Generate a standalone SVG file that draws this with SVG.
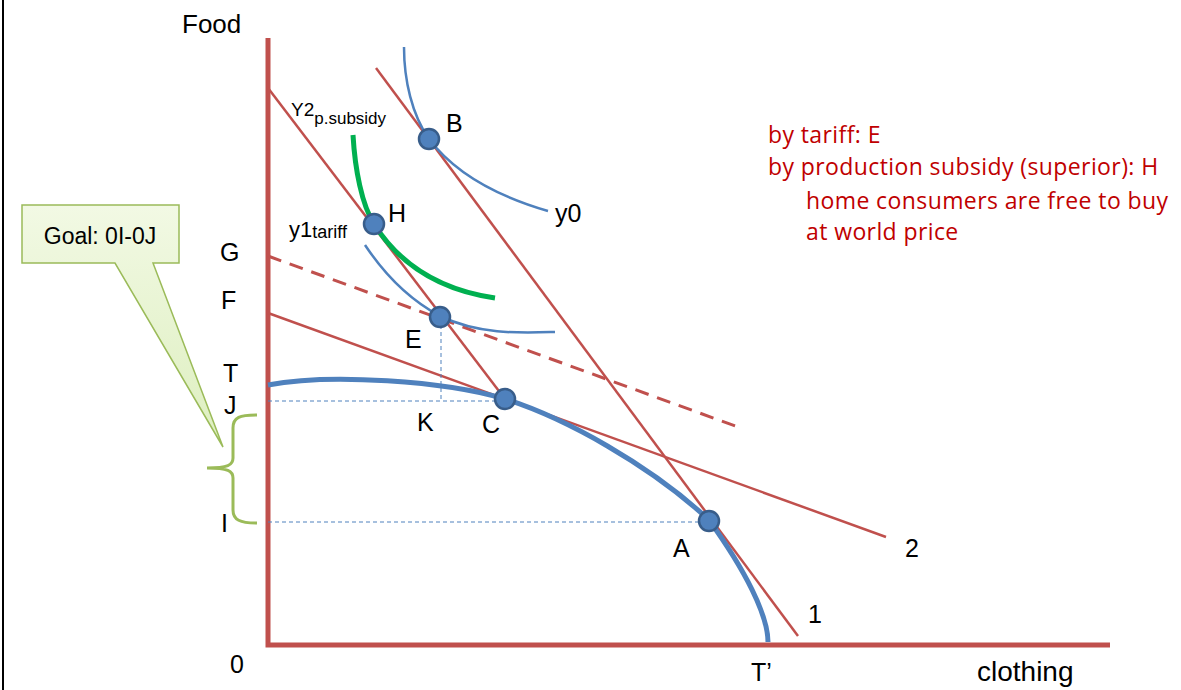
<svg xmlns="http://www.w3.org/2000/svg" width="1181" height="690" viewBox="0 0 1181 690">
<style>
text{font-family:"Liberation Sans",Arial,sans-serif;fill:#000}
.lbl{font-size:25px}
.red{fill:#C00000;font-size:23px;letter-spacing:0.4px;font-family:"Open Sans","Liberation Sans",sans-serif}
.axis{stroke:#C0504D;stroke-width:5;fill:none}
.rl{stroke:#C0504D;stroke-width:2.5;fill:none}
.dash{stroke:#C0504D;stroke-width:3;fill:none;stroke-dasharray:14,9}
.blue{stroke:#4F81BD;stroke-width:2.5;fill:none}
.ppf{stroke:#4F81BD;stroke-width:5;fill:none}
.grn{stroke:#00B050;stroke-width:5;fill:none}
.guide{stroke:#4F81BD;stroke-width:1;fill:none;stroke-dasharray:4,3}
.dot{fill:#4F81BD;stroke:#385D8A;stroke-width:2.5}
</style>
<defs>
<linearGradient id="gg" x1="0" y1="0" x2="0" y2="1">
<stop offset="0" stop-color="#F2F9E4"/>
<stop offset="1" stop-color="#DDEFBF"/>
</linearGradient>
</defs>
<rect width="1181" height="690" fill="#fff"/>
<line x1="3" y1="0" x2="3" y2="690" stroke="#000" stroke-width="2"/>
<g id="axes">
<path class="axis" d="M268,38 L268,645 L1110,645"/>
<text x="182" y="33" style="font-size:26px">Food</text>
<text x="977" y="681" style="font-size:28px">clothing</text>
<text x="230" y="673" class="lbl">0</text>
<text x="751" y="681" class="lbl">T’</text>
</g>
<g id="connectors">
<line class="rl" x1="268" y1="88" x2="505" y2="399"/>
<line class="rl" x1="376" y1="68" x2="798" y2="636"/>
<line class="rl" x1="268" y1="313" x2="886" y2="537"/>
<line class="dash" x1="268" y1="256" x2="738" y2="427"/>
<path class="guide" d="M268,401 L505,401 M441,318 L441,401 M268,522 L709,522"/>
</g>
<g id="curves">
<path class="ppf" d="M268,385 C330,373 445,381 505,399 C565,418 650,465 709,520 C745,570 768,615 768,642"/>
<path class="blue" d="M404,47 C404,80 412,115 429,139 C460,180 510,200 548,211"/>
<path class="blue" d="M365,245 C385,275 410,300 440,316 C480,335 520,333 555,332"/>
<path class="grn" d="M353,135 C355,170 362,205 374,224 C400,265 440,290 495,298"/>
</g>
<g id="points">
<circle class="dot" cx="429" cy="139" r="10"/>
<circle class="dot" cx="374" cy="224" r="10"/>
<circle class="dot" cx="440" cy="317" r="10"/>
<circle class="dot" cx="505" cy="399" r="10"/>
<circle class="dot" cx="709" cy="521" r="10"/>
</g>
<g id="labels">
<text x="446" y="132" class="lbl">B</text>
<text x="388" y="222" class="lbl">H</text>
<text x="555" y="222" class="lbl">y0</text>
<text x="405" y="348" class="lbl">E</text>
<text x="417" y="431" class="lbl">K</text>
<text x="482" y="433" class="lbl">C</text>
<text x="673" y="557" class="lbl">A</text>
<text x="905" y="557" class="lbl">2</text>
<text x="808" y="623" class="lbl">1</text>
<text x="220" y="261" class="lbl">G</text>
<text x="221" y="309" class="lbl">F</text>
<text x="223" y="382" class="lbl">T</text>
<text x="224" y="414" class="lbl">J</text>
<text x="221" y="532" class="lbl">I</text>
<text x="291" y="116" style="font-size:19px">Y2<tspan dy="8" style="font-size:17px">p.subsidy</tspan></text>
<text x="289" y="237" style="font-size:22px">y1<tspan dy="1" style="font-size:18px">tariff</tspan></text>
</g>
<g id="note">
<text x="768" y="143" class="red">by tariff: E</text>
<text x="768" y="175" class="red">by production subsidy (superior): H</text>
<text x="806" y="209" class="red">home consumers are free to buy</text>
<text x="806" y="240" class="red">at world price</text>
</g>
<g id="goal">
<path d="M22,205 L179,205 L179,263 L153,263 L223,447 L115,263 L22,263 Z" fill="url(#gg)" stroke="#9BBB59" stroke-width="1.5"/>
<text x="100" y="244" text-anchor="middle" style="font-size:23px">Goal: 0I-0J</text>
</g>
<g id="brace">
<path d="M257,415 C240,415 233,417 233,428 L233,458 C233,465 228,468 207,468 C228,468 233,471 233,478 L233,510 C233,520 240,523 257,523" fill="none" stroke="#9BBB59" stroke-width="3"/>
</g>
</svg>
